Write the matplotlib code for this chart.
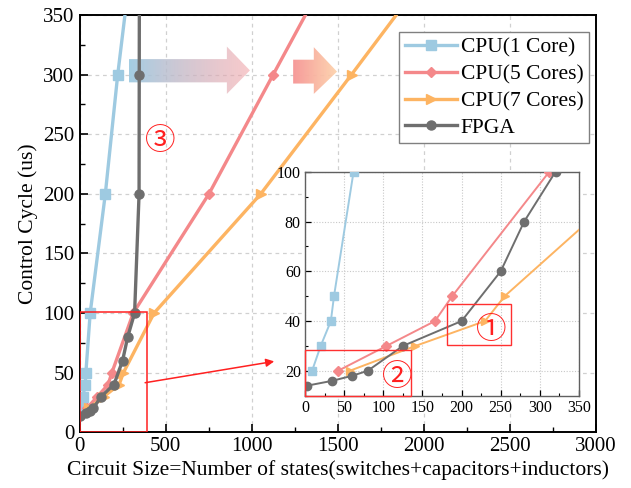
import numpy as np
import matplotlib
matplotlib.use("Agg")
import matplotlib.pyplot as plt
from matplotlib.patches import Polygon, Rectangle
from matplotlib.ticker import MultipleLocator

plt.rcParams['font.family'] = ['Liberation Serif', 'Noto Sans CJK SC', 'DejaVu Sans']
plt.rcParams['mathtext.fontset'] = 'stix'

# ---- data ----
cpu1_x = [9, 20, 33, 37, 62, 150, 222, 306]
cpu1_y = [20, 30, 40, 50, 100, 200, 300, 400]
cpu5_x = [42, 104, 166, 188, 312, 752, 1125, 1500]
cpu5_y = [20, 30, 40, 50, 100, 200, 300, 400]
cpu7_x = [57, 141, 230, 255, 433, 1053, 1580, 2100]
cpu7_y = [20, 30, 40, 50, 100, 200, 300, 400]
fpga_x = [2, 35, 60, 80, 125, 200, 250, 280, 320, 346, 347, 348]
fpga_y = [14, 16, 18, 20, 30, 40, 60, 80, 100, 200, 300, 400]

labels = ['CPU(1 Core)', 'CPU(5 Cores)', 'CPU(7 Cores)', 'FPGA']
colors = ['#9ecae1', '#f4888a', '#fdb462', '#6e6e6e']
markers = ['s', 'D', '>', 'o']
series = [(cpu1_x, cpu1_y), (cpu5_x, cpu5_y), (cpu7_x, cpu7_y), (fpga_x, fpga_y)]

xlabel = 'Circuit Size=Number of states(switches+capacitors+inductors)'
ylabel = 'Control Cycle (us)'

fig = plt.figure(figsize=(6.31, 4.88), dpi=100)
ax = fig.add_axes([0.126, 0.1141, 0.8185, 0.8552])

for (xs, ys), lab, c, m in zip(series, labels, colors, markers):
    ms = 6.5 if m != 'D' else 5.5
    ax.plot(xs, ys, color=c, marker=m, lw=2.4, ms=ms, label=lab, zorder=3)


def grad_arrow(ax, x0, x1, xt, ys0, ys1, yh0, yh1, yt, c0, c1, a0, a1):
    verts = [(x0, ys0), (x1, ys0), (x1, yh0), (xt, yt), (x1, yh1), (x1, ys1), (x0, ys1)]
    poly = Polygon(verts, closed=True, facecolor='none', edgecolor='none')
    ax.add_patch(poly)
    n = 256
    t = np.linspace(0, 1, n)
    c0 = np.array(matplotlib.colors.to_rgb(c0))
    c1 = np.array(matplotlib.colors.to_rgb(c1))
    rgb = c0[None, :] * (1 - t[:, None]) + c1[None, :] * t[:, None]
    alpha = a0 * (1 - t) + a1 * t
    img = np.concatenate([rgb, alpha[:, None]], axis=1)[None, :, :]
    img = np.repeat(img, 2, axis=0)
    im = ax.imshow(img, extent=[x0, xt, min(yh1, yh0), max(yh1, yh0)],
                   aspect='auto', interpolation='bilinear', zorder=2, origin='lower')
    im.set_clip_path(poly)


grad_arrow(ax, 287, 856, 990, 293.5, 313, 283.8, 323.5, 303.5,
           '#9fcbe2', '#f2a0a4', 0.95, 0.55)
grad_arrow(ax, 1241, 1361, 1496, 292.5, 312.5, 283.8, 323, 302.5,
           '#f69a9a', '#fdd0a8', 1.0, 0.9)

ax.set_xlim(0, 3000)
ax.set_ylim(0, 350)
ax.xaxis.set_major_locator(MultipleLocator(500))
ax.xaxis.set_minor_locator(MultipleLocator(250))
ax.yaxis.set_major_locator(MultipleLocator(50))
ax.yaxis.set_minor_locator(MultipleLocator(25))
ax.tick_params(which='both', direction='in', labelsize=15, top=False, right=False)
ax.tick_params(which='major', length=6, width=1.2)
ax.tick_params(which='minor', length=3.5, width=1.0)
ax.grid(True, which='major', ls=(0, (3, 3)), color='#d0d0d0', lw=0.9)
ax.set_axisbelow(True)
for s in ax.spines.values():
    s.set_linewidth(1.4)
ax.set_xlabel(xlabel, fontsize=15.5, labelpad=3)
ax.set_ylabel(ylabel, fontsize=15.5, labelpad=4)

ax.add_patch(Rectangle((0, 0), 392, 101, fill=False, edgecolor='#ff2020', lw=1.1, zorder=4))
ax.annotate('', xy=(1131, 59.5), xytext=(381, 41.6),
            arrowprops=dict(arrowstyle='-|>', color='#ff2020', lw=1.1,
                            mutation_scale=12, shrinkA=0, shrinkB=0), zorder=4)
ax.text(471, 244, '③', color='#ff2020', fontsize=22, ha='center', va='center',
        family=['Noto Sans CJK SC', 'DejaVu Sans'])

leg = ax.legend(loc='upper right', bbox_to_anchor=(0.9864, 0.96), borderaxespad=0,
                fontsize=15.5, handlelength=2.4, handletextpad=0.2, labelspacing=0.32,
                borderpad=0.25, fancybox=False, edgecolor='#808080', framealpha=1)
leg.get_frame().set_linewidth(1.0)

# ---- inset ----
ins = fig.add_axes([0.4834, 0.1891, 0.4342, 0.4590])
ins.set_facecolor('white')
for (xs, ys), lab, c, m in zip(series, labels, colors, markers):
    ms = 6 if m != 'D' else 5.5
    ins.plot(xs, ys, color=c, marker=m, lw=1.4, ms=ms, zorder=3)
ins.set_xlim(0, 350)
ins.set_ylim(10, 100)
ins.xaxis.set_major_locator(MultipleLocator(50))
ins.xaxis.set_minor_locator(MultipleLocator(25))
ins.yaxis.set_major_locator(MultipleLocator(20))
ins.yaxis.set_minor_locator(MultipleLocator(10))
ins.tick_params(which='both', direction='in', labelsize=11.5, top=False, right=False, pad=3)
ins.tick_params(which='major', length=4, width=0.9)
ins.tick_params(which='minor', length=2.5, width=0.8)
ins.grid(True, which='major', ls=(0, (1, 1.5)), color='#c8c8c8', lw=0.8)
ins.set_axisbelow(True)
for s in ins.spines.values():
    s.set_linewidth(1.0)
    s.set_color('#606060')
ins.add_patch(Rectangle((0, 10), 136, 18.2, fill=False, edgecolor='#ff3030', lw=1.0, zorder=4, clip_on=False))
ins.add_patch(Rectangle((181, 30.4), 82, 16.4, fill=False, edgecolor='#ff3030', lw=1.0, zorder=4))
ins.text(238, 36.3, '①', color='#ff2020', fontsize=22, ha='center', va='center',
         family=['Noto Sans CJK SC', 'DejaVu Sans'])
ins.text(118, 17.2, '②', color='#ff2020', fontsize=22, ha='center', va='center',
         family=['Noto Sans CJK SC', 'DejaVu Sans'])

fig.savefig('out.png', dpi=100)
